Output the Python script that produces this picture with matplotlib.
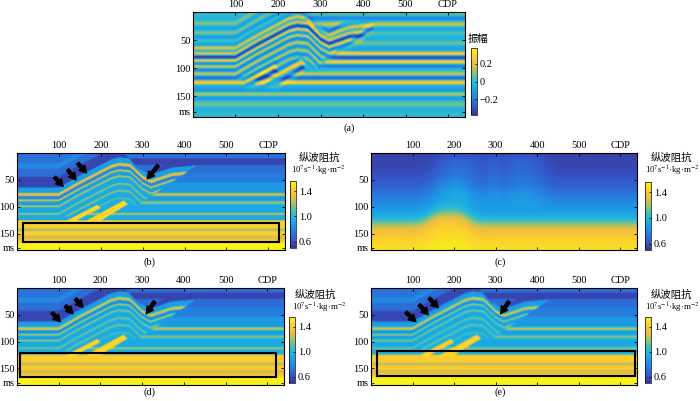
import numpy as np
import matplotlib
matplotlib.use('Agg')
import matplotlib.pyplot as plt
from matplotlib.colors import LinearSegmentedColormap
from matplotlib.patches import Rectangle
from matplotlib.path import Path

plt.rcParams['font.family'] = ['Liberation Serif', 'Noto Sans CJK SC']
plt.rcParams['mathtext.fontset'] = 'stix'
plt.rcParams['font.size'] = 7.5

# parula-like colormap, tuned to the colours of the reference colour bars
cmap_pos = [0.0, 0.12, 0.25, 0.38, 0.48, 0.56, 0.65, 0.75, 0.85, 1.0]
cmap_rgb = [(0.23, 0.20, 0.58), (0.20, 0.35, 0.80), (0.15, 0.50, 0.88), (0.10, 0.65, 0.90),
            (0.15, 0.72, 0.85), (0.30, 0.75, 0.70), (0.62, 0.76, 0.42), (0.88, 0.75, 0.28),
            (0.99, 0.78, 0.20), (0.97, 0.96, 0.10)]
parula = LinearSegmentedColormap.from_list('parula', list(zip(cmap_pos, cmap_rgb)))

# model grid (CDP, ms)
cdp = np.arange(0, 640) + 0.5
ms = np.arange(0, 190) + 0.5

# flat background layers: top time (ms) and impedance
bg_top = [0, 10, 22, 37, 55, 74, 80, 89, 95, 111, 115, 125, 140, 145, 153, 160, 166]
bg_imp = [0.72, 0.56, 0.70, 0.76, 0.86, 1.22, 0.88, 1.15, 0.92, 1.20, 0.95, 1.42, 1.22, 1.42, 1.28, 1.38, 1.55]

# folded thrust sheet: reference horizon, top and base
hw_x = [0, 100, 150, 225, 245, 270, 300, 320, 370, 440]
hw_z = [74, 74, 52, 22, 18, 20, 42, 50, 37, 32]
hw_top_x = [0, 255, 290, 320, 350, 640]
hw_top_t = [-1, -1, 30, 36, 22, 22]
hw_bot_x = [0, 120, 290, 435, 640]
hw_bot_t = [120, 118, 96, 20, 20]
# layers inside the sheet: offset from reference horizon and impedance
hw_off = [-300, -55, -45, -30, -10, 0, 6, 12, 16, 23, 27, 37, 41, 50, 54, 64, 67, 300]
hw_imp = [0.72, 0.80, 0.70, 0.57, 0.88, 1.28, 0.80, 1.22, 0.88, 1.18, 0.92, 1.15, 0.94, 1.15, 0.93, 1.10, 0.95]

# high impedance slivers along the ramp
wedge_a = [(112, 128), (135, 128), (200, 102), (192, 96)]
wedge_b = [(160, 128), (195, 128), (265, 95), (255, 88)]
wedge_imp = 1.45

# low-frequency initial model (c)
c_t = [0, 30, 60, 90, 110, 125, 140, 155, 190]
c_v = [0.55, 0.57, 0.65, 0.80, 0.88, 1.05, 1.32, 1.42, 1.52]
c_sx = [0, 120, 160, 220, 250, 640]
c_sh = [0, 0, 20, 20, 0, 0]
c_px = [0, 150, 200, 250, 280, 295, 315, 340, 370, 410, 440, 640]
c_pv = [0, 0, 0.10, 0.08, 0.05, 0.14, 0.04, 0.10, 0.12, 0.06, 0, 0]

# arrows (tail, tip) in CDP/ms and boxes (cdp0, t0, cdp1, t1)
arrows_b = [((90, 45), (110, 62)), ((121, 31), (141, 50)), ((145, 19), (166, 37)), ((337, 23), (311, 48))]
arrows_d = [((84, 46), (104, 63)), ((116, 33), (134, 48)), ((140, 20), (158, 36)), ((330, 25), (310, 48))]
arrows_e = [((84, 45), (108, 63)), ((116, 31), (138, 50)), ((140, 19), (162, 37)), ((332, 25), (312, 48))]
box_b = (14, 130, 626, 166)
box_d = (7, 122, 620, 167)
box_e = (14, 118, 636, 164)


def build_model():
    X, T = np.meshgrid(cdp, ms)
    imp = np.zeros_like(X)
    for top, v in zip(bg_top, bg_imp):
        imp[T >= top] = v
    z0 = np.interp(cdp, hw_x, hw_z)[None, :]
    top = np.interp(cdp, hw_top_x, hw_top_t)[None, :]
    bot = np.interp(cdp, hw_bot_x, hw_bot_t)[None, :]
    inside = (T >= top) & (T < bot)
    off = T - z0
    for o1, o2, v in zip(hw_off[:-1], hw_off[1:], hw_imp):
        imp[inside & (off >= o1) & (off < o2)] = v
    pts = np.column_stack([X.ravel(), T.ravel()])
    for w in (wedge_a, wedge_b):
        m = Path(w).contains_points(pts).reshape(X.shape)
        imp[m] = wedge_imp
    return imp


def gauss(s):
    r = int(3 * s) + 1
    k = np.exp(-0.5 * (np.arange(-r, r + 1) / s) ** 2)
    return k / k.sum(), r


def smooth(a, sx, st):
    out = a.copy()
    if st > 0:
        k, r = gauss(st)
        out = np.apply_along_axis(lambda c: np.convolve(np.pad(c, r, mode='edge'), k, mode='valid'), 0, out)
    if sx > 0:
        k, r = gauss(sx)
        out = np.apply_along_axis(lambda c: np.convolve(np.pad(c, r, mode='edge'), k, mode='valid'), 1, out)
    return out


def initial_model():
    X, T = np.meshgrid(cdp, ms)
    sh = np.interp(cdp, c_sx, c_sh)[None, :]
    base = np.interp(T + sh, c_t, c_v)
    taper = np.interp(ms, [0, 15, 80, 110], [0.3, 1, 1, 0])[:, None]
    base = base + np.interp(cdp, c_px, c_pv)[None, :] * taper
    return smooth(base, 12, 4)


def seismic(imp):
    r = np.zeros_like(imp)
    r[1:] = (imp[1:] - imp[:-1]) / (imp[1:] + imp[:-1])
    f = 50.0
    tt = np.arange(-30, 31) * 0.001
    w = (1 - 2 * (np.pi * f * tt) ** 2) * np.exp(-(np.pi * f * tt) ** 2)
    s = np.apply_along_axis(lambda c: np.convolve(c, w, mode='same'), 0, r)
    return s * 1.2


model = build_model()
model_d = smooth(model, 1.0, 1.0)
model_e = smooth(model, 1.5, 1.3)
model_c = initial_model()
seis = seismic(smooth(model, 1.0, 0.0))

fig = plt.figure(figsize=(7.0, 4.01), dpi=100)
W, H = 700.0, 401.0


def px_axes(l, t, r, b):
    return fig.add_axes([l / W, 1 - b / H, (r - l) / W, (b - t) / H])


def ftext(x, y, s, **kw):
    fig.text(x / W, 1 - y / H, s, ha='center', va='center', **kw)


def style_axes(ax, ymax, ms_pos):
    ax.set_xlim(0, 640)
    ax.set_ylim(ymax, 0)
    ax.set_xticks([100, 200, 300, 400, 500, 600])
    ax.set_xticklabels(['100', '200', '300', '400', '500', 'CDP'])
    ax.set_yticks([50, 100, 150, ms_pos])
    ax.set_yticklabels(['50', '100', '150', 'ms'])
    ax.tick_params(axis='x', top=True, bottom=True, labeltop=True, labelbottom=False,
                   direction='in', length=2.5, width=0.6, pad=2)
    ax.tick_params(axis='y', left=True, right=True, direction='in', length=2.5, width=0.6, pad=2)
    for sp in ax.spines.values():
        sp.set_linewidth(0.8)


def add_cbar(im, box, ticks, labels):
    cax = px_axes(*box)
    cb = fig.colorbar(im, cax=cax)
    cb.set_ticks(ticks)
    cb.set_ticklabels(labels)
    cb.ax.tick_params(direction='in', length=1.5, width=0.5, pad=2)
    cb.outline.set_linewidth(0.5)
    return cb


def draw_imp(box, data, ymax, ms_pos, cbox, arrows=None, rect=None):
    ax = px_axes(*box)
    im = ax.imshow(data, cmap=parula, vmin=0.5, vmax=1.56, aspect='auto',
                   extent=[0, 640, 190, 0], interpolation='bilinear')
    style_axes(ax, ymax, ms_pos)
    if arrows:
        for tail, tip in arrows:
            ax.annotate('', xy=tip, xytext=tail,
                        arrowprops=dict(facecolor='k', edgecolor='k', width=2.2, headwidth=5.5,
                                        headlength=5, shrink=0))
    if rect:
        x0, t0, x1, t1 = rect
        ax.add_patch(Rectangle((x0, t0), x1 - x0, t1 - t0, fill=False, ec='k', lw=1.5))
    add_cbar(im, cbox, [0.6, 1.0, 1.4], ['0.6', '1.0', '1.4'])
    return ax


# (a) seismic record
ax_a = px_axes(193, 12, 465, 117)
im_a = ax_a.imshow(seis, cmap=parula, vmin=-0.38, vmax=0.38, aspect='auto',
                   extent=[0, 640, 190, 0], interpolation='bilinear')
style_axes(ax_a, 187, 178)
add_cbar(im_a, (471, 48, 477, 115), [-0.2, 0, 0.2], ['\u22120.2', '0', '0.2'])
ftext(478, 39, '振幅')
ftext(349, 128, '(a)')

unit = '10$^{7}$s$^{-1}$·kg·m$^{-2}$'

draw_imp((17, 153, 285, 250), model, 180, 176, (290, 181, 296, 248), arrows_b, box_b)
ftext(319, 158, '纵波阻抗')
ftext(318, 171, unit, fontsize=6.3)
ftext(150, 262, '(b)')

draw_imp((371, 153, 637, 250), model_c, 180, 176, (645, 182, 651, 250))
ftext(671, 158, '纵波阻抗')
ftext(672, 171, unit, fontsize=6.3)
ftext(500, 262, '(c)')

draw_imp((17, 288, 284, 385), model_d, 181, 177, (289, 317, 295, 383), arrows_d, box_d)
ftext(315, 295, '纵波阻抗')
ftext(319, 308, unit, fontsize=6.3)
ftext(150, 392, '(d)')

draw_imp((371, 288, 637, 385), model_e, 181, 177, (645, 317, 651, 383), arrows_e, box_e)
ftext(671, 295, '纵波阻抗')
ftext(672, 308, unit, fontsize=6.3)
ftext(500, 392, '(e)')

fig.savefig('out.png', dpi=100)
